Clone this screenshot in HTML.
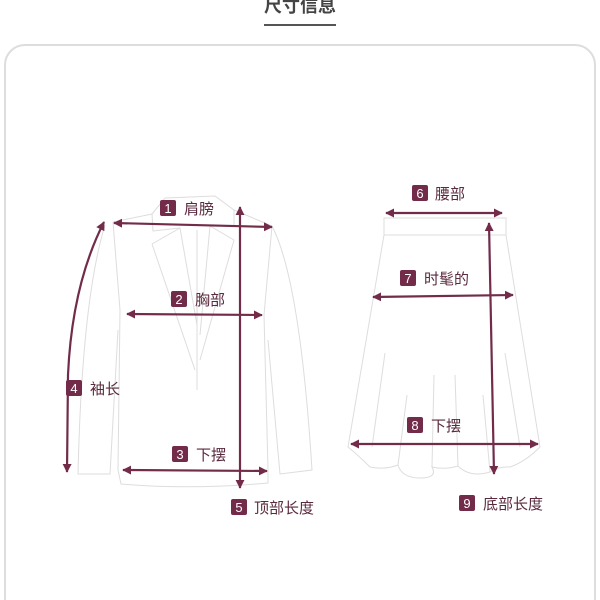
<!DOCTYPE html>
<html><head><meta charset="utf-8"><style>
html,body{margin:0;padding:0;background:#fff;}
svg{display:block;font-family:"Liberation Sans","Noto Sans CJK SC",sans-serif;}
</style></head><body>
<svg width="600" height="600" viewBox="0 0 600 600">
<defs>
<marker id="a" viewBox="0 0 10 10" refX="9" refY="5" markerWidth="9" markerHeight="9" orient="auto-start-reverse" markerUnits="userSpaceOnUse"><path d="M0,0 L10,5 L0,10 z" fill="#722c4a"/></marker>
</defs>
<text x="300" y="12" text-anchor="middle" font-size="18" font-weight="bold" fill="#444">尺寸信息</text>
<rect x="264" y="24" width="72" height="2" fill="#555"/>
<rect x="5" y="45" width="590" height="580" rx="20" fill="none" stroke="#ddd" stroke-width="2"/>
<g fill="none" stroke="#ddd" stroke-width="1">
<path d="M113,222 L152,214 L165,198 L215,196 L234,210 L272,226"/>
<path d="M152,214 L153,231 L180,228"/>
<path d="M234,210 L234,226 L210,225"/>
<path d="M152,244 L180,228 L197,325 L197,390 M234,240 L210,226 L200,335 M152,244 L195,370 M234,240 L200,360"/>
<path d="M113,222 L120,310 L118,470 L121,484 Q190,490 268,483 L268,470 L264,315 L272,226"/>
<path d="M105,225 Q82,300 78,474 L110,474 L118,330"/>
<path d="M272,226 Q300,280 312,470 L280,474 L268,340"/>
<path d="M197,230 L197,330"/>
</g>
<g fill="none" stroke="#ddd" stroke-width="1">
<rect x="384" y="218" width="122" height="17"/>
<path d="M384,235 L348,447 Q358,455 370,467 Q385,470 398,465 Q402,478 420,478 Q438,478 432,467 Q445,470 458,466 Q470,478 490,472 Q500,466 510,467 Q525,462 540,447 L506,235"/>
<path d="M385,353 L372,447 M505,353 L520,447 M407,395 L398,465 M434,375 L432,467 M455,375 L458,466 M483,395 L490,472"/>
</g>
<g stroke="#722c4a" stroke-width="2.2" fill="none">
<line x1="114" y1="223" x2="272" y2="227" marker-start="url(#a)" marker-end="url(#a)"/>
<line x1="127" y1="314" x2="262" y2="315" marker-start="url(#a)" marker-end="url(#a)"/>
<line x1="123" y1="470" x2="267" y2="471" marker-start="url(#a)" marker-end="url(#a)"/>
<line x1="240" y1="207" x2="240" y2="488" marker-start="url(#a)" marker-end="url(#a)"/>
<path d="M104,222 Q72,285 68,375 L67,472" marker-start="url(#a)" marker-end="url(#a)"/>
<line x1="386" y1="213" x2="502" y2="213" marker-start="url(#a)" marker-end="url(#a)"/>
<line x1="489" y1="223" x2="494" y2="474" marker-start="url(#a)" marker-end="url(#a)"/>
<line x1="373" y1="297" x2="513" y2="295" marker-start="url(#a)" marker-end="url(#a)"/>
<line x1="351" y1="444" x2="538" y2="444" marker-start="url(#a)" marker-end="url(#a)"/>
</g>
<g fill="#722c4a">
<rect x="160" y="200" width="16" height="16" rx="2"/>
<rect x="171" y="291" width="16" height="16" rx="2"/>
<rect x="172" y="446" width="16" height="16" rx="2"/>
<rect x="66" y="380" width="16" height="16" rx="2"/>
<rect x="231" y="499" width="16" height="16" rx="2"/>
<rect x="412" y="185" width="16" height="16" rx="2"/>
<rect x="400" y="270" width="16" height="16" rx="2"/>
<rect x="407" y="417" width="16" height="16" rx="2"/>
<rect x="459" y="495" width="16" height="16" rx="2"/>
</g>
<g fill="#fff" font-size="13" text-anchor="middle">
<text x="168" y="213">1</text><text x="179" y="304">2</text><text x="180" y="459">3</text>
<text x="74" y="393">4</text><text x="239" y="512">5</text><text x="420" y="198">6</text>
<text x="408" y="283">7</text><text x="415" y="430">8</text><text x="467" y="508">9</text>
</g>
<g fill="#5a2a3e" font-size="15">
<text x="184" y="214">肩膀</text><text x="195" y="305">胸部</text><text x="196" y="460">下摆</text>
<text x="90" y="394">袖长</text><text x="254" y="513">顶部长度</text><text x="435" y="199">腰部</text>
<text x="424" y="284">时髦的</text><text x="431" y="431">下摆</text><text x="483" y="509">底部长度</text>
</g>
</svg>
</body></html>
